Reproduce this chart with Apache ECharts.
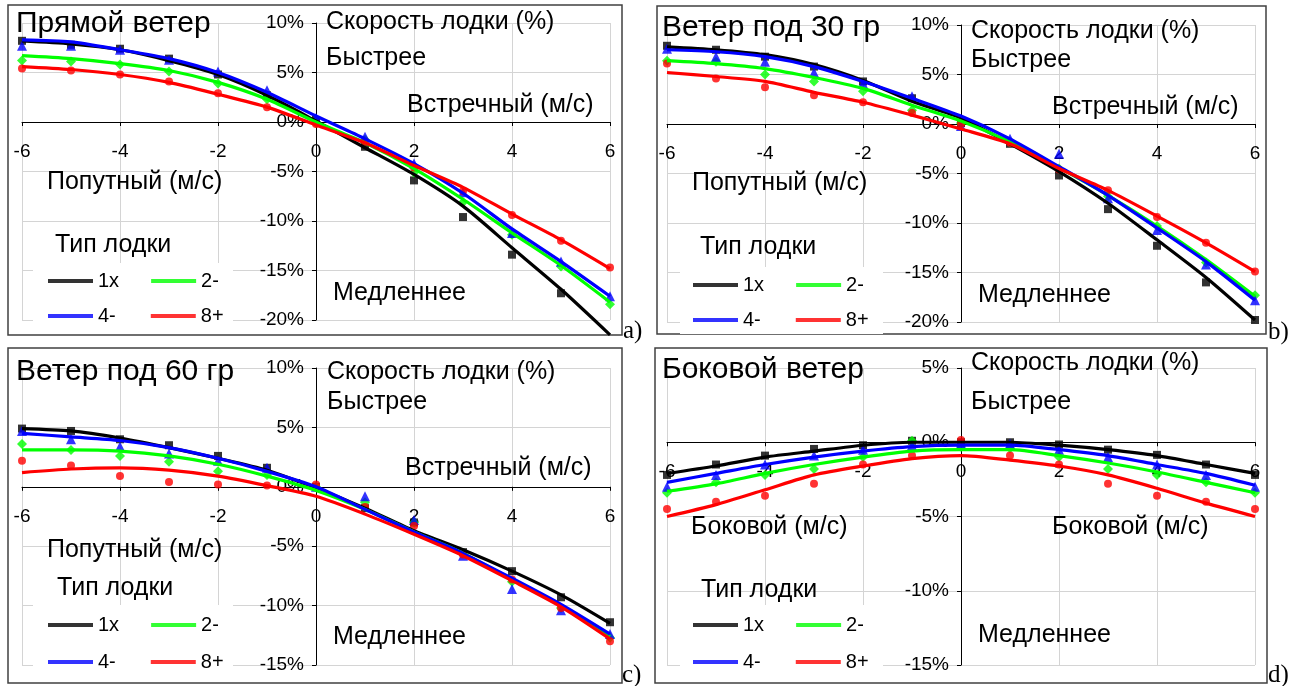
<!DOCTYPE html>
<html>
<head>
<meta charset="utf-8">
<script src="https://cdn.jsdelivr.net/npm/echarts@6/dist/echarts.min.js"></script>
<style>
  html, body { margin: 0; padding: 0; background: #ffffff; }
  #chart { width: 1297px; height: 686px; }
</style>
</head>
<body>
<div id="chart"></div>
<script>
// Wind speed (m/s): negative = tailwind / left crosswind, positive = headwind / right crosswind
const windSpeeds = [-6, -5, -4, -3, -2, -1, 0, 1, 2, 3, 4, 5, 6];
const boatTypes = ['1x', '2-', '4-', '8+'];

// Axis ranges (boat speed change, %)
const yMins = [-20, -20, -15, -15];
const yMaxs = [10, 10, 10, 5];
const xMin = -6, xMax = 6, xStep = 2, yStep = 5;

// a) Прямой ветер — fitted curves
const headFit1x = [8.2, 7.9, 7.3, 6.2, 4.8, 2.7, 0.1, -2.6, -5.3, -8.5, -12.7, -16.9, -21.5];
const headFit2 = [6.7, 6.4, 5.9, 5.2, 4.0, 2.3, 0.0, -2.1, -4.7, -7.8, -11.2, -14.5, -18.2];
const headFit4 = [8.3, 8.1, 7.3, 6.4, 5.0, 3.0, 0.6, -1.7, -4.2, -7.2, -10.8, -14.1, -17.6];
const headFit8 = [5.6, 5.3, 4.8, 4.0, 2.8, 1.5, -0.3, -2.1, -4.4, -6.6, -9.3, -11.9, -14.8];
// a) measured points
const headPts1x = [8.2, 7.8, 7.4, 6.4, 4.8, 2.7, 0.2, -2.5, -5.9, -9.6, -13.4, -17.3, -21.7];
const headPts2 = [6.2, 6.1, 5.8, 5.1, 3.9, 2.3, -0.1, -1.8, -5.1, -8.1, -11.4, -14.6, -18.4];
const headPts4 = [7.7, 7.7, 7.3, 6.3, 5.1, 3.2, 0.4, -1.5, -4.2, -7.1, -11.2, -14.1, -17.6];
const headPts8 = [5.4, 5.2, 4.8, 4.1, 2.9, 1.5, -0.2, -2.0, -4.6, -7.0, -9.4, -12.0, -14.7];

// b) Ветер под 30 гр
const w30Fit1x = [7.8, 7.5, 7.0, 6.0, 4.4, 2.3, 0.6, -2.0, -4.8, -8.0, -11.7, -15.5, -19.8];
const w30Fit2 = [6.4, 6.1, 5.6, 4.7, 3.6, 1.9, 0.3, -1.8, -4.4, -7.2, -10.3, -13.7, -17.4];
const w30Fit4 = [7.5, 7.3, 6.8, 5.8, 4.3, 2.6, 0.8, -1.5, -4.3, -7.2, -10.5, -13.9, -17.8];
const w30Fit8 = [5.2, 4.8, 4.3, 3.2, 2.2, 0.9, -0.5, -2.0, -4.5, -6.7, -9.3, -12.0, -14.9];
const w30Pts1x = [7.9, 7.5, 6.8, 5.8, 4.3, 2.6, 0.1, -2.0, -5.2, -8.6, -12.3, -16.0, -19.8];
const w30Pts2 = [6.4, 6.3, 5.0, 4.3, 3.3, 1.4, 0.1, -1.8, -4.5, -7.3, -10.3, -14.0, -17.3];
const w30Pts4 = [7.6, 6.8, 6.3, 5.2, 4.1, 2.8, -0.2, -1.5, -3.0, -7.5, -10.7, -14.2, -17.8];
const w30Pts8 = [6.1, 4.6, 3.7, 2.9, 2.2, 1.1, 0.0, -1.9, -4.6, -6.7, -9.4, -12.0, -14.9];

// c) Ветер под 60 гр
const w60Fit1x = [4.9, 4.7, 4.1, 3.3, 2.4, 1.4, -0.1, -1.8, -3.7, -5.3, -7.1, -9.1, -11.5];
const w60Fit2 = [3.1, 3.1, 3.0, 2.6, 1.9, 0.9, -0.3, -1.9, -3.8, -5.6, -7.8, -10.0, -12.6];
const w60Fit4 = [4.5, 4.2, 3.9, 3.3, 2.4, 1.3, 0.0, -1.9, -3.8, -5.6, -7.7, -9.9, -12.4];
const w60Fit8 = [1.2, 1.5, 1.6, 1.4, 0.9, 0.1, -0.8, -2.3, -4.0, -5.8, -7.9, -10.1, -12.8];
const w60Pts1x = [4.9, 4.7, 4.0, 3.5, 2.6, 1.6, 0.0, -1.8, -3.0, -5.5, -7.1, -9.3, -11.4];
const w60Pts2 = [3.6, 3.1, 2.6, 2.1, 1.3, 1.0, 0.0, -1.3, -3.0, -5.6, -8.0, -10.2, -12.7];
const w60Pts4 = [4.7, 4.0, 3.4, 2.8, 2.2, 1.6, 0.0, -0.8, -2.8, -5.8, -8.6, -10.4, -12.4];
const w60Pts8 = [2.2, 1.8, 0.9, 0.4, 0.2, 0.1, 0.2, -1.7, -3.3, -5.7, -7.8, -10.2, -13.0];

// d) Боковой ветер
const sideFit1x = [-2.1, -1.6, -1.0, -0.6, -0.2, 0.0, 0.0, 0.0, -0.2, -0.5, -0.9, -1.5, -2.1];
const sideFit2 = [-3.3, -2.8, -2.1, -1.5, -1.0, -0.6, -0.5, -0.5, -0.9, -1.4, -2.0, -2.7, -3.4];
const sideFit4 = [-2.7, -2.1, -1.5, -1.0, -0.6, -0.3, -0.2, -0.2, -0.5, -0.9, -1.5, -2.1, -2.9];
const sideFit8 = [-5.0, -4.2, -3.2, -2.2, -1.6, -1.1, -0.9, -1.2, -1.6, -2.2, -3.1, -4.1, -5.0];
const sidePts1x = [-2.2, -1.5, -0.9, -0.45, -0.2, 0.1, 0.0, 0.0, -0.15, -0.5, -0.85, -1.5, -2.2];
const sidePts2 = [-3.4, -2.7, -2.2, -1.8, -1.0, 0.1, -0.3, -0.4, -1.0, -1.8, -2.2, -2.7, -3.4];
const sidePts4 = [-3.0, -2.2, -1.5, -0.9, -0.5, -0.2, -0.1, -0.1, -0.5, -1.0, -1.5, -2.2, -3.0];
const sidePts8 = [-4.5, -4.0, -3.6, -2.8, -1.5, -0.9, 0.15, -0.9, -1.5, -2.8, -3.6, -4.0, -4.5];

const panelFits = [
  [headFit1x, headFit2, headFit4, headFit8],
  [w30Fit1x, w30Fit2, w30Fit4, w30Fit8],
  [w60Fit1x, w60Fit2, w60Fit4, w60Fit8],
  [sideFit1x, sideFit2, sideFit4, sideFit8]
];
const panelPoints = [
  [headPts1x, headPts2, headPts4, headPts8],
  [w30Pts1x, w30Pts2, w30Pts4, w30Pts8],
  [w60Pts1x, w60Pts2, w60Pts4, w60Pts8],
  [sidePts1x, sidePts2, sidePts4, sidePts8]
];

// ---- styling / layout ----
const FONT = '"Liberation Sans", Arial, sans-serif';
const SERIF = '"Liberation Serif", "Times New Roman", serif';
const colors = ['#000000', '#00ff00', '#0000ff', '#ff0000'];
const symbols = ['rect', 'diamond', 'triangle', 'circle'];
const symbolSizes = [8, 10, 10, 8];

const grids = [
  { left: 22, top: 23, width: 588, height: 297 },
  { left: 667, top: 25, width: 588, height: 297 },
  { left: 22, top: 368, width: 588, height: 297 },
  { left: 667, top: 368, width: 588, height: 297 }
].map(g => Object.assign({ outerBoundsMode: 'none' }, g));

const pairs = arr => windSpeeds.map((x, i) => [x, arr[i]]);

// Axes cross at zero: shift the bottom / left axes inward to the zero position
const xAxes = grids.map((g, i) => ({
  gridIndex: i, type: 'value', min: xMin, max: xMax, interval: xStep,
  position: 'bottom',
  offset: -g.height * (0 - yMins[i]) / (yMaxs[i] - yMins[i]),
  axisLine: { onZero: false, lineStyle: { color: '#000', width: 1 } },
  axisTick: { show: true, length: 4, lineStyle: { color: '#000' } },
  axisLabel: { fontSize: 19, color: '#000', fontFamily: FONT, margin: 20 },
  splitLine: { show: true, lineStyle: { color: '#d4d4d4', width: 1 } }
}));

const yAxes = grids.map((g, i) => ({
  gridIndex: i, type: 'value', min: yMins[i], max: yMaxs[i], interval: yStep,
  position: 'left',
  offset: -g.width * (0 - xMin) / (xMax - xMin),
  axisLine: { show: true, onZero: false, lineStyle: { color: '#000', width: 1 } },
  axisTick: { show: true, length: 4, lineStyle: { color: '#000' } },
  axisLabel: { fontSize: 19, color: '#000', fontFamily: FONT, margin: 12, formatter: '{value}%' },
  splitLine: { show: true, lineStyle: { color: '#d4d4d4', width: 1 } }
}));

const series = [];
panelFits.forEach((fits, p) => {
  boatTypes.forEach((name, k) => {
    series.push({
      type: 'scatter', name, xAxisIndex: p, yAxisIndex: p,
      symbol: symbols[k], symbolSize: symbolSizes[k],
      itemStyle: { color: colors[k] }, data: pairs(panelPoints[p][k]), z: 2
    });
    series.push({
      type: 'line', name, xAxisIndex: p, yAxisIndex: p,
      showSymbol: false, smooth: 0.25, clip: false,
      lineStyle: { color: colors[k], width: 3.2 }, itemStyle: { color: colors[k] },
      data: pairs(fits[k]), z: 3
    });
  });
});

// Legend rows (two items per row)
const legendRows = [
  { left: 48, top: 271, data: ['1x', '2-'], gap: 32 },
  { left: 48, top: 306, data: ['4-', '8+'], gap: 35 },
  { left: 693, top: 275, data: ['1x', '2-'], gap: 32 },
  { left: 693, top: 310, data: ['4-', '8+'], gap: 35 },
  { left: 48, top: 615, data: ['1x', '2-'], gap: 32 },
  { left: 48, top: 652, data: ['4-', '8+'], gap: 35 },
  { left: 693, top: 615, data: ['1x', '2-'], gap: 32 },
  { left: 693, top: 652, data: ['4-', '8+'], gap: 35 }
];
const legends = legendRows.map(r => ({
  left: r.left, top: r.top, orient: 'horizontal', padding: 0,
  itemGap: r.gap, itemWidth: 45, itemHeight: 4, icon: 'rect',
  selectedMode: false, data: r.data,
  textStyle: { fontSize: 20, color: '#000', fontFamily: FONT }
}));

// Text labels: [text, x, y(center), size, family]
const labels = [
  ['Прямой ветер', 16, 24, 30],
  ['Скорость лодки (%)', 326, 22, 25],
  ['Быстрее', 326, 58, 25],
  ['Встречный (м/с)', 407, 105, 25],
  ['Попутный (м/с)', 47, 182, 25],
  ['Медленнее', 333, 293, 25],
  ['Тип лодки', 55, 245, 25],
  ['a)', 623, 331, 25, SERIF],

  ['Ветер под 30 гр', 662, 28, 30],
  ['Скорость лодки (%)', 971, 31, 25],
  ['Быстрее', 971, 60, 25],
  ['Встречный (м/с)', 1052, 107, 25],
  ['Попутный (м/с)', 692, 183, 25],
  ['Медленнее', 978, 295, 25],
  ['Тип лодки', 700, 247, 25],
  ['b)', 1268, 332, 25, SERIF],

  ['Ветер под 60 гр', 16, 372, 30],
  ['Скорость лодки (%)', 327, 372, 25],
  ['Быстрее', 327, 402, 25],
  ['Встречный (м/с)', 405, 468, 25],
  ['Попутный (м/с)', 47, 550, 25],
  ['Медленнее', 333, 637, 25],
  ['Тип лодки', 57, 588, 25],
  ['c)', 622, 675, 25, SERIF],

  ['Боковой ветер', 662, 370, 30],
  ['Скорость лодки (%)', 971, 363, 25],
  ['Быстрее', 971, 402, 25],
  ['Боковой (м/с)', 691, 527, 25],
  ['Боковой (м/с)', 1052, 527, 25],
  ['Медленнее', 978, 635, 25],
  ['Тип лодки', 701, 590, 25],
  ['d)', 1268, 675, 25, SERIF]
];

const frames = [
  [8, 5, 614, 330], [657, 6, 609, 328], [8, 348, 614, 335], [655, 348, 612, 335]
];
const legendBoxes = [
  [33, 263, 200, 70], [680, 267, 203, 67], [33, 605, 200, 75], [680, 605, 203, 75]
];

const graphics = [];
frames.forEach(f => graphics.push({
  type: 'rect', z: 0, silent: true,
  shape: { x: f[0], y: f[1], width: f[2], height: f[3] },
  style: { fill: null, stroke: '#404040', lineWidth: 1.5 }
}));
legendBoxes.forEach(b => graphics.push({
  type: 'rect', z: 1, silent: true,
  shape: { x: b[0], y: b[1], width: b[2], height: b[3] },
  style: { fill: '#ffffff' }
}));
labels.forEach(l => graphics.push({
  type: 'text', z: 10, silent: true, x: l[1], y: l[2],
  style: {
    text: l[0], fill: '#000', verticalAlign: 'middle', align: 'left',
    font: l[3] + 'px ' + (l[4] || FONT)
  }
}));

const chart = echarts.init(document.getElementById('chart'), null, { renderer: 'canvas' });
chart.setOption({
  animation: false,
  backgroundColor: '#ffffff',
  grid: grids,
  xAxis: xAxes,
  yAxis: yAxes,
  legend: legends,
  series: series,
  graphic: graphics
});
</script>
</body>
</html>
